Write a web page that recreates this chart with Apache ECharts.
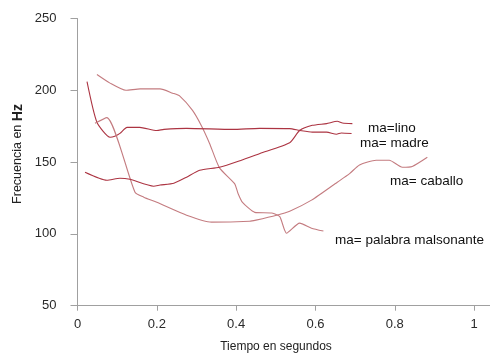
<!DOCTYPE html>
<html>
<head>
<meta charset="utf-8">
<script src="https://cdn.jsdelivr.net/npm/echarts@6/dist/echarts.min.js"></script>
<style>
html,body{margin:0;padding:0;background:#fff;}
#chart{width:490px;height:356px;}
</style>
</head>
<body>
<div id="chart"></div>
<script>
// Tick labels
const xTicks = [0, 0.2, 0.4, 0.6, 0.8, 1];
const yTicks = [50, 100, 150, 200, 250];

// ma= palabra malsonante
const timePalabra = [0.049, 0.082, 0.122, 0.158, 0.208, 0.24, 0.258, 0.29, 0.313, 0.333, 0.358, 0.396, 0.405, 0.416, 0.447, 0.49, 0.51, 0.527, 0.56, 0.59, 0.62];
const freqPalabra = [211, 205, 200, 201, 201, 198, 196, 186, 175, 163, 146, 135, 128, 122, 115, 114.5, 112, 100.5, 107.5, 104, 102];

// ma= madre
const timeMadre = [0.024, 0.049, 0.082, 0.094, 0.107, 0.125, 0.157, 0.2, 0.218, 0.275, 0.391, 0.459, 0.535, 0.56, 0.592, 0.628, 0.653, 0.665, 0.691];
const freqMadre = [206, 177.7, 167.3, 168, 170, 174.2, 174.2, 172, 172.8, 173.5, 172.8, 173.5, 173.3, 172.1, 170.9, 170.9, 169.4, 170.3, 169.9];

// ma= caballo
const timeCaballo = [0.044, 0.074, 0.145, 0.167, 0.2, 0.275, 0.338, 0.434, 0.45, 0.502, 0.535, 0.59, 0.655, 0.686, 0.711, 0.753, 0.786, 0.819, 0.844, 0.882];
const freqCaballo = [177, 181, 129, 125.6, 122, 113, 108.2, 108.8, 109.6, 113, 115.8, 123.5, 136, 142, 148, 151.3, 151.3, 146.4, 147, 153.4];

// ma=lino
const timeLino = [0.019, 0.074, 0.107, 0.132, 0.192, 0.208, 0.243, 0.275, 0.308, 0.358, 0.41, 0.46, 0.535, 0.56, 0.592, 0.628, 0.655, 0.668, 0.693];
const freqLino = [143, 137.4, 138.8, 138, 133.2, 134, 135.3, 139.5, 144.3, 146.4, 151, 156, 163.5, 172, 175.6, 176.8, 178.4, 177.2, 176.8];

function pairs(t, f) { return t.map((v, i) => [v, f[i]]); }

const chart = echarts.init(document.getElementById('chart'), null, {renderer: 'canvas'});
const FONT = '"Liberation Sans", Arial, sans-serif';
const darkRed = '#ac3442';
const lightRed = '#c47c80';

function lineSeries(name, data, color) {
  return {
    name: name, type: 'line', data: data, showSymbol: false, symbol: 'none',
    smooth: 0.2, lineStyle: {color: color, width: 1.1}, animation: false, silent: true
  };
}

chart.setOption({
  animation: false,
  backgroundColor: '#ffffff',
  grid: {left: 77.5, top: 18.5, width: 413.4, height: 287.2, containLabel: false},
  xAxis: {
    type: 'value', min: 0, max: 1.04, interval: 0.2,
    axisLine: {show: true, lineStyle: {color: '#a0a0a0', width: 1}},
    axisTick: {show: true, inside: false, length: 5, lineStyle: {color: '#a0a0a0'}, customValues: xTicks},
    axisLabel: {customValues: xTicks, margin: 12, color: '#2a2a2a', fontFamily: FONT, fontSize: 13,
      formatter: v => String(Math.round(v * 10) / 10)},
    splitLine: {show: false}
  },
  yAxis: {
    type: 'value', min: 50, max: 250, interval: 50,
    axisLine: {show: true, onZero: false, lineStyle: {color: '#a0a0a0', width: 1}},
    axisTick: {show: true, length: 7, lineStyle: {color: '#a0a0a0'}},
    axisLabel: {margin: 21, color: '#2a2a2a', fontFamily: FONT, fontSize: 13},
    splitLine: {show: false}
  },
  series: [
    lineSeries('ma= palabra malsonante', pairs(timePalabra, freqPalabra), lightRed),
    lineSeries('ma= madre', pairs(timeMadre, freqMadre), darkRed),
    lineSeries('ma= caballo', pairs(timeCaballo, freqCaballo), lightRed),
    lineSeries('ma=lino', pairs(timeLino, freqLino), darkRed)
  ],
  graphic: [
    {type: 'text', left: 368, top: 121, style: {text: 'ma=lino', font: '13.5px ' + FONT, fill: '#111'}},
    {type: 'text', left: 360, top: 136, style: {text: 'ma= madre', font: '13.5px ' + FONT, fill: '#111'}},
    {type: 'text', left: 390, top: 174, style: {text: 'ma= caballo', font: '13.5px ' + FONT, fill: '#111'}},
    {type: 'text', left: 335, top: 233, style: {text: 'ma= palabra malsonante', font: '13.5px ' + FONT, fill: '#111'}},
    {type: 'text', x: 276, y: 347, style: {text: 'Tiempo en segundos', font: '12px ' + FONT, fill: '#222', align: 'center', verticalAlign: 'middle'}},
    {type: 'text', x: 18, y: 154, rotation: Math.PI / 2,
      style: {text: 'Frecuencia en {b|Hz}', font: '12.5px ' + FONT, fill: '#222', align: 'center', verticalAlign: 'middle',
        rich: {b: {fontSize: 14, fontWeight: 'bold', fontFamily: FONT, fill: '#222'}}}}
  ]
});
</script>
</body>
</html>
